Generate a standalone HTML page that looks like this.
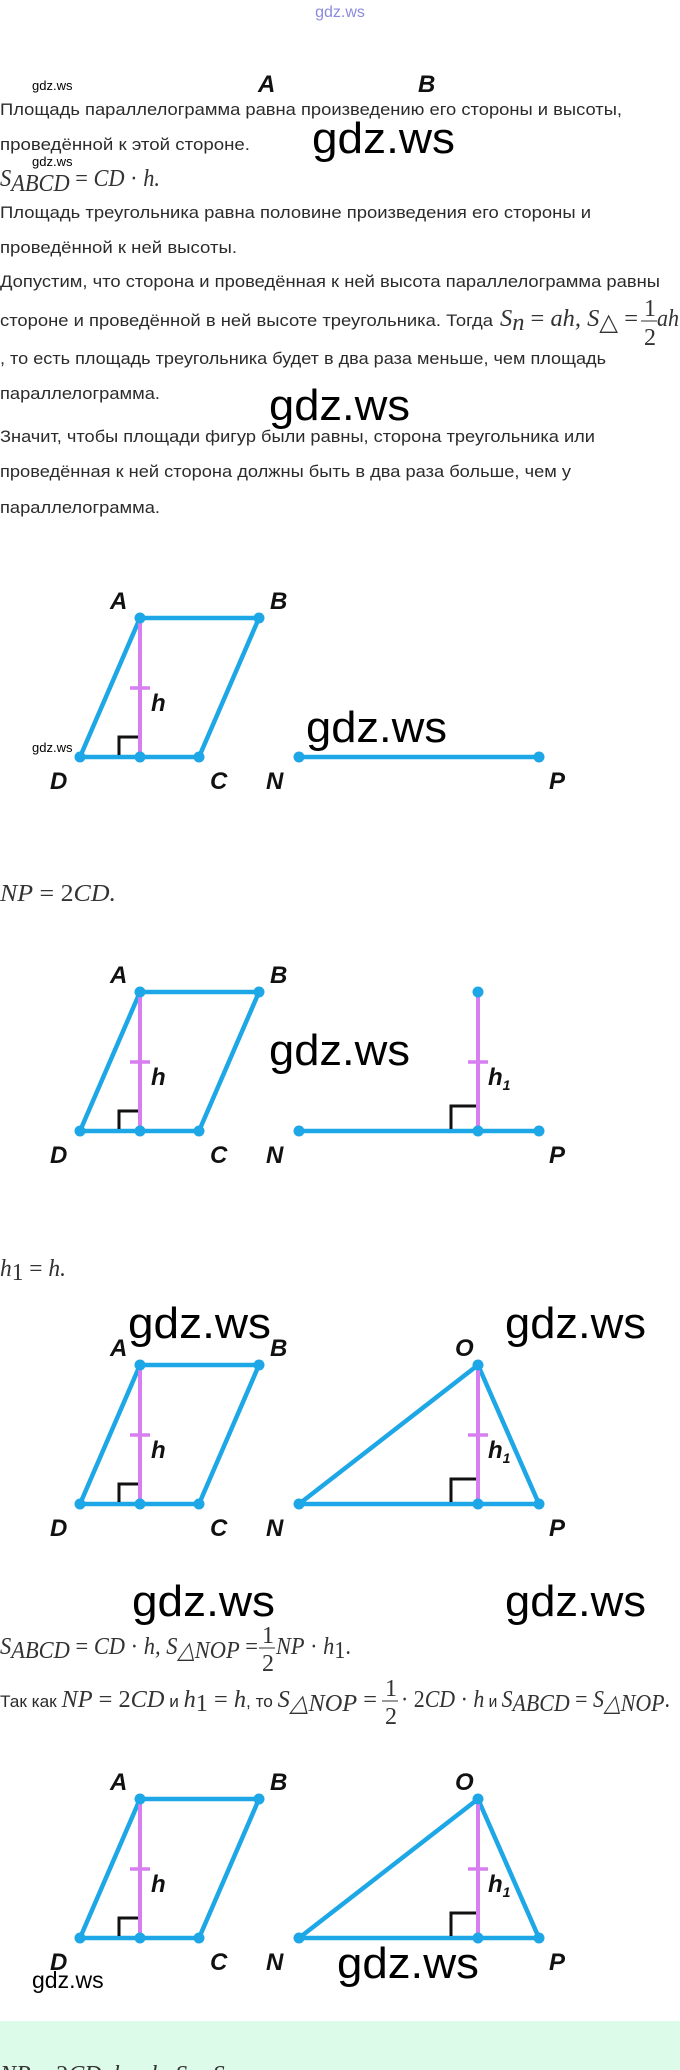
<!DOCTYPE html>
<html><head><meta charset="utf-8"><style>
html,body{margin:0;padding:0;background:#fff;}
svg{display:block}
.t{font-family:"Liberation Sans",sans-serif;font-size:17px;fill:#2b2b2b}
.m{font-family:"Liberation Serif",serif;font-style:italic;font-size:24px;fill:#333}
.mr{font-family:"Liberation Serif",serif;font-style:normal;font-size:24px;fill:#333}
.w{font-family:"Liberation Sans","DejaVu Sans",sans-serif;fill:#000}
.lb{font-family:"Liberation Sans",sans-serif;font-weight:bold;font-style:italic;font-size:24px;fill:#111}
</style></head><body>
<svg width="680" height="2070" viewBox="0 0 680 2070" xmlns="http://www.w3.org/2000/svg">
<defs>
<g id="par">
  <polygon points="140,0 259,0 199,139 80,139" fill="none" stroke="#1ea7e6" stroke-width="4.5" stroke-linejoin="round"/>
  <line x1="140" y1="0" x2="140" y2="139" stroke="#d77ff0" stroke-width="4"/>
  <line x1="130" y1="70" x2="150" y2="70" stroke="#d77ff0" stroke-width="3.5"/>
  <path d="M119,137 V119 H138" fill="none" stroke="#111" stroke-width="3"/>
  <circle cx="140" cy="0" r="5.5" fill="#1ea7e6"/><circle cx="259" cy="0" r="5.5" fill="#1ea7e6"/>
  <circle cx="199" cy="139" r="5.5" fill="#1ea7e6"/><circle cx="80" cy="139" r="5.5" fill="#1ea7e6"/>
  <circle cx="140" cy="139" r="5.5" fill="#1ea7e6"/>
  <text class="lb" x="151" y="93">h</text>
  <text class="lb" x="110" y="-9">A</text><text class="lb" x="270" y="-9">B</text>
  <text class="lb" x="50" y="171">D</text><text class="lb" x="210" y="171">C</text>
  <text class="lb" x="266" y="171">N</text><text class="lb" x="549" y="171">P</text>
</g>
<g id="tri">
  <polygon points="478,0 539,139 299,139" fill="none" stroke="#1ea7e6" stroke-width="4.5" stroke-linejoin="round"/>
  <line x1="478" y1="0" x2="478" y2="139" stroke="#d77ff0" stroke-width="4"/>
  <line x1="468" y1="70" x2="488" y2="70" stroke="#d77ff0" stroke-width="3.5"/>
  <path d="M451,137 V114 H476" fill="none" stroke="#111" stroke-width="3"/>
  <circle cx="478" cy="0" r="5.5" fill="#1ea7e6"/><circle cx="478" cy="139" r="5.5" fill="#1ea7e6"/>
  <circle cx="539" cy="139" r="5.5" fill="#1ea7e6"/><circle cx="299" cy="139" r="5.5" fill="#1ea7e6"/>
  <text class="lb" x="488" y="93">h<tspan font-size="14" dy="5">1</tspan></text>
  <text class="lb" x="455" y="-9">O</text>
</g>
</defs>

<text x="340" y="17" text-anchor="middle" font-family="Liberation Sans" font-size="16" fill="#8a8ae0">gdz.ws</text>
<text class="w" x="32" y="90" font-size="13">gdz.ws</text>
<text class="lb" x="258" y="92">A</text><text class="lb" x="418" y="92">B</text>

<text class="t" x="0" y="115" textLength="622" lengthAdjust="spacingAndGlyphs">Площадь параллелограмма равна произведению его стороны и высоты,</text>
<text class="t" x="0" y="150" textLength="250" lengthAdjust="spacingAndGlyphs">проведённой к этой стороне.</text>
<text class="w" x="312" y="153" font-size="44" textLength="143" lengthAdjust="spacingAndGlyphs">gdz.ws</text>
<text class="w" x="32" y="166" font-size="13">gdz.ws</text>
<text x="0" y="186" textLength="160" lengthAdjust="spacingAndGlyphs"><tspan class="m">S</tspan><tspan class="m" font-size="16" dy="5">ABCD</tspan><tspan dy="-5" class="mr"> = </tspan><tspan class="m">CD</tspan><tspan class="mr"> · </tspan><tspan class="m">h.</tspan></text>
<text class="t" x="0" y="218" textLength="591" lengthAdjust="spacingAndGlyphs">Площадь треугольника равна половине произведения его стороны и</text>
<text class="t" x="0" y="253" textLength="237" lengthAdjust="spacingAndGlyphs">проведённой к ней высоты.</text>
<text class="t" x="0" y="287" textLength="660" lengthAdjust="spacingAndGlyphs">Допустим, что сторона и проведённая к ней высота параллелограмма равны</text>
<text class="t" x="0" y="326" textLength="493" lengthAdjust="spacingAndGlyphs">стороне и проведённой в ней высоте треугольника. Тогда</text>
<text x="500" y="326" textLength="138" lengthAdjust="spacingAndGlyphs"><tspan class="m">S</tspan><tspan class="m" font-size="15" dy="4">п</tspan><tspan dy="-4" class="mr"> = </tspan><tspan class="m">ah, S</tspan><tspan font-size="15" dy="4" class="mr">△</tspan><tspan dy="-4" class="mr"> = </tspan></text>
<text class="mr" x="644" y="316" font-size="19">1</text><line x1="641" y1="321" x2="657" y2="321" stroke="#333" stroke-width="1"/><text class="mr" x="644" y="345" font-size="19">2</text>
<text class="m" x="657" y="326" textLength="22" lengthAdjust="spacingAndGlyphs">ah</text>
<text class="t" x="0" y="364" textLength="606" lengthAdjust="spacingAndGlyphs">, то есть площадь треугольника будет в два раза меньше, чем площадь</text>
<text class="t" x="0" y="399" textLength="160" lengthAdjust="spacingAndGlyphs">параллелограмма.</text>
<text class="w" x="269" y="420" font-size="44" textLength="141" lengthAdjust="spacingAndGlyphs">gdz.ws</text>
<text class="t" x="0" y="442" textLength="595" lengthAdjust="spacingAndGlyphs">Значит, чтобы площади фигур были равны, сторона треугольника или</text>
<text class="t" x="0" y="477" textLength="571" lengthAdjust="spacingAndGlyphs">проведённая к ней сторона должны быть в два раза больше, чем у</text>
<text class="t" x="0" y="513" textLength="160" lengthAdjust="spacingAndGlyphs">параллелограмма.</text>

<!-- Figure 1 -->
<g transform="translate(0,618)"><use href="#par"/>
  <line x1="299" y1="139" x2="539" y2="139" stroke="#1ea7e6" stroke-width="4.5"/>
  <circle cx="299" cy="139" r="5.5" fill="#1ea7e6"/><circle cx="539" cy="139" r="5.5" fill="#1ea7e6"/>
</g>
<text class="w" x="306" y="742" font-size="44" textLength="141" lengthAdjust="spacingAndGlyphs">gdz.ws</text>
<text class="w" x="32" y="752" font-size="13">gdz.ws</text>
<text x="0" y="901" textLength="116" lengthAdjust="spacingAndGlyphs"><tspan class="m">NP</tspan><tspan class="mr"> = 2</tspan><tspan class="m">CD.</tspan></text>

<!-- Figure 2 -->
<g transform="translate(0,992)"><use href="#par"/>
  <line x1="299" y1="139" x2="539" y2="139" stroke="#1ea7e6" stroke-width="4.5"/>
  <line x1="478" y1="0" x2="478" y2="139" stroke="#d77ff0" stroke-width="4"/>
  <line x1="468" y1="70" x2="488" y2="70" stroke="#d77ff0" stroke-width="3.5"/>
  <path d="M451,137 V114 H476" fill="none" stroke="#111" stroke-width="3"/>
  <circle cx="478" cy="0" r="5.5" fill="#1ea7e6"/><circle cx="478" cy="139" r="5.5" fill="#1ea7e6"/>
  <circle cx="299" cy="139" r="5.5" fill="#1ea7e6"/><circle cx="539" cy="139" r="5.5" fill="#1ea7e6"/>
  <text class="lb" x="488" y="93">h<tspan font-size="14" dy="5">1</tspan></text>
</g>
<text class="w" x="269" y="1065" font-size="44" textLength="141" lengthAdjust="spacingAndGlyphs">gdz.ws</text>
<text x="0" y="1276" textLength="66" lengthAdjust="spacingAndGlyphs"><tspan class="m">h</tspan><tspan font-size="16" dy="4" class="mr">1</tspan><tspan dy="-4" class="mr"> = </tspan><tspan class="m">h.</tspan></text>

<!-- Figure 3 -->
<g transform="translate(0,1365)"><use href="#par"/><use href="#tri"/></g>
<text class="w" x="128" y="1338" font-size="44" textLength="143" lengthAdjust="spacingAndGlyphs">gdz.ws</text>
<text class="w" x="505" y="1338" font-size="44" textLength="141" lengthAdjust="spacingAndGlyphs">gdz.ws</text>
<text class="w" x="132" y="1616" font-size="44" textLength="143" lengthAdjust="spacingAndGlyphs">gdz.ws</text>
<text class="w" x="505" y="1616" font-size="44" textLength="141" lengthAdjust="spacingAndGlyphs">gdz.ws</text>

<text x="0" y="1654" textLength="258" lengthAdjust="spacingAndGlyphs"><tspan class="m">S</tspan><tspan class="m" font-size="15" dy="4">ABCD</tspan><tspan dy="-4" class="mr"> = </tspan><tspan class="m">CD</tspan><tspan class="mr"> · </tspan><tspan class="m">h, S</tspan><tspan class="m" font-size="15" dy="4">△NOP</tspan><tspan dy="-4" class="mr"> = </tspan></text>
<text class="mr" x="262" y="1643" font-size="19">1</text><line x1="259" y1="1648" x2="275" y2="1648" stroke="#333" stroke-width="1"/><text class="mr" x="262" y="1671" font-size="19">2</text>
<text x="276" y="1654" textLength="75" lengthAdjust="spacingAndGlyphs"><tspan class="m">NP</tspan><tspan class="mr"> · </tspan><tspan class="m">h</tspan><tspan font-size="15" dy="4" class="mr">1</tspan><tspan class="mr" dy="-4">.</tspan></text>

<text x="0" y="1707" textLength="377" lengthAdjust="spacingAndGlyphs"><tspan class="t" font-size="16">Так как </tspan><tspan class="m">NP</tspan><tspan class="mr"> = 2</tspan><tspan class="m">CD</tspan><tspan class="t" font-size="16"> и </tspan><tspan class="m">h</tspan><tspan class="mr" font-size="15" dy="4">1</tspan><tspan class="mr" dy="-4"> = </tspan><tspan class="m">h</tspan><tspan class="t" font-size="16">, то </tspan><tspan class="m">S</tspan><tspan class="m" font-size="15" dy="4">△NOP</tspan><tspan class="mr" dy="-4"> = </tspan></text>
<text class="mr" x="385" y="1696" font-size="19">1</text><line x1="382" y1="1701" x2="398" y2="1701" stroke="#333" stroke-width="1"/><text class="mr" x="385" y="1724" font-size="19">2</text>
<text x="401" y="1707" textLength="269" lengthAdjust="spacingAndGlyphs"><tspan class="mr"> · 2</tspan><tspan class="m">CD</tspan><tspan class="mr"> · </tspan><tspan class="m">h</tspan><tspan class="t" font-size="16"> и </tspan><tspan class="m">S</tspan><tspan class="m" font-size="15" dy="4">ABCD</tspan><tspan class="mr" dy="-4"> = </tspan><tspan class="m">S</tspan><tspan class="m" font-size="15" dy="4">△NOP</tspan><tspan class="mr" dy="-4">.</tspan></text>

<!-- Figure 4 -->
<g transform="translate(0,1799)"><use href="#par"/><use href="#tri"/></g>
<text class="w" x="32" y="1988" font-size="23">gdz.ws</text>
<text class="w" x="337" y="1978" font-size="44" textLength="142" lengthAdjust="spacingAndGlyphs">gdz.ws</text>

<rect x="0" y="2021" width="680" height="49" fill="#dcfbe8"/>
<text x="0" y="2082"><tspan class="m">NP</tspan><tspan class="mr"> = 2</tspan><tspan class="m">CD, h</tspan><tspan class="mr"> = </tspan><tspan class="m">h, S</tspan><tspan class="mr"> = </tspan><tspan class="m">S</tspan></text>
</svg>
</body></html>
